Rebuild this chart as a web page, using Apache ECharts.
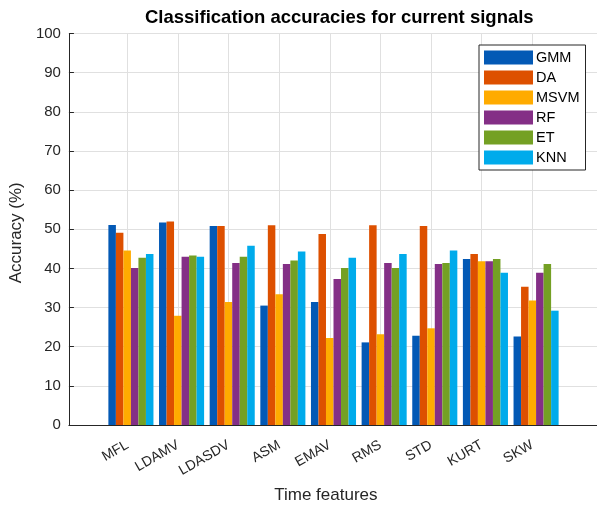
<!DOCTYPE html>
<html>
<head>
<meta charset="utf-8">
<script src="https://cdn.jsdelivr.net/npm/echarts@6/dist/echarts.min.js"></script>
<style>
html,body{margin:0;padding:0;background:#fff;}
#chart{width:597px;height:509px;}
</style>
</head>
<body>
<div id="chart"></div>
<script>
const categories = ['MFL','LDAMV','LDASDV','ASM','EMAV','RMS','STD','KURT','SKW'];
const seriesNames = ['GMM','DA','MSVM','RF','ET','KNN'];
const GMM  = [51.1, 51.7, 50.8, 30.5, 31.4, 21.1, 22.8, 42.4, 22.6];
const DA   = [49.1, 52.0, 50.8, 51.0, 48.8, 51.0, 50.8, 43.7, 35.3];
const MSVM = [44.6, 27.9, 31.4, 33.4, 22.2, 23.2, 24.7, 41.8, 31.8];
const RF   = [40.1, 43.0, 41.4, 41.1, 37.3, 41.4, 41.1, 41.8, 38.9];
const ET   = [42.7, 43.3, 43.0, 42.0, 40.1, 40.1, 41.4, 42.4, 41.1];
const KNN  = [43.7, 43.0, 45.8, 44.3, 42.7, 43.7, 44.6, 38.9, 29.2];
const yTicks = [0,10,20,30,40,50,60,70,80,90,100];

const values = [GMM, DA, MSVM, RF, ET, KNN];
const colors = ['#0359B5','#DD5000','#FFAB00','#842F86','#74A024','#00ABEB'];
const FONT = 'Liberation Sans, Arial, Helvetica, sans-serif';
const TOP = 33.5, BOTTOM = 84;

const chart = echarts.init(document.getElementById('chart'), null, {renderer:'canvas'});
chart.setOption({
  animation: false,
  backgroundColor: '#fff',
  textStyle: {fontFamily: FONT},
  title: {
    text: 'Classification accuracies for current signals',
    left: 145, top: 8, padding: 0,
    textStyle: {fontFamily: FONT, fontSize: 18.5, fontWeight: 'bold', color: '#000'}
  },
  legend: {
    data: seriesNames,
    orient: 'vertical',
    left: 479, top: 45,
    itemWidth: 49, itemHeight: 14, itemGap: 5,
    padding: [5, 6, 5, 5],
    borderColor: '#262626', borderWidth: 1,
    backgroundColor: '#fff',
    icon: 'rect',
    textStyle: {fontFamily: FONT, fontSize: 14.5, color: '#000', padding: [0,0,0,-2]}
  },
  grid: [
    {left: 68.3, right: 0, top: TOP, bottom: BOTTOM, containLabel: false},
    {left: 105.6, right: 35.6, top: TOP, bottom: BOTTOM, containLabel: false},
    {left: 127.5, right: 64.7, top: TOP, bottom: BOTTOM, containLabel: false}
  ],
  xAxis: [
    {gridIndex: 0, type: 'value', min: 0, max: 1, axisLine: {show: true, onZero: false, lineStyle: {color: '#262626', width: 1}},
     axisTick: {show: false}, axisLabel: {show: false}, splitLine: {show: false}},
    {gridIndex: 1, type: 'category', data: categories, show: false},
    {gridIndex: 2, type: 'category', data: categories, boundaryGap: false,
     axisLine: {show: false},
     axisTick: {show: true, inside: true, length: 5, lineStyle: {color: '#262626'}},
     axisLabel: {interval: 0, rotate: 30, margin: 20, fontSize: 14, color: '#262626', fontFamily: FONT},
     splitLine: {show: true, lineStyle: {color: '#e0e0e0', width: 1}},
     name: 'Time features', nameLocation: 'middle', nameGap: 63,
     nameTextStyle: {fontSize: 17, color: '#262626', fontFamily: FONT, padding: [0, 8, 0, 0]}}
  ],
  yAxis: [
    {gridIndex: 0, type: 'value', min: yTicks[0], max: yTicks[yTicks.length-1], interval: 10,
     axisLine: {show: true, lineStyle: {color: '#262626', width: 1}},
     axisTick: {show: true, inside: true, length: 5, lineStyle: {color: '#262626'}},
     axisLabel: {margin: 8, fontSize: 15, color: '#262626', fontFamily: FONT},
     splitLine: {show: true, lineStyle: {color: '#e0e0e0', width: 1}},
     name: 'Accuracy (%)', nameLocation: 'middle', nameGap: 42,
     nameTextStyle: {fontSize: 17, color: '#262626', fontFamily: FONT, padding: [0, 7, 0, 0]}},
    {gridIndex: 1, type: 'value', min: 0, max: 100, show: false},
    {gridIndex: 2, type: 'value', min: 0, max: 100, show: false}
  ],
  series: seriesNames.map((n, i) => ({
    name: n, type: 'bar', xAxisIndex: 1, yAxisIndex: 1,
    data: values[i],
    barGap: '0%', barCategoryGap: '11%',
    itemStyle: {color: colors[i]}
  }))
});
</script>
</body>
</html>
